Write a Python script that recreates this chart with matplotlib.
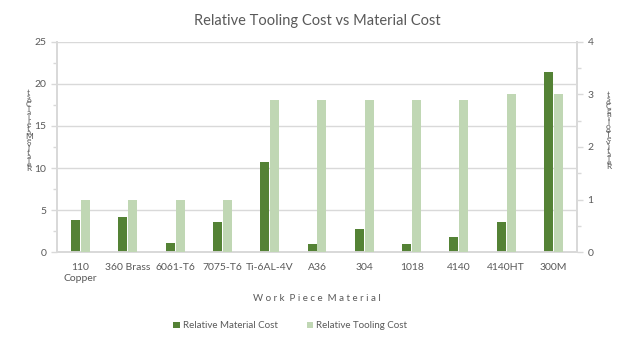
import numpy as np
import matplotlib
matplotlib.use("Agg")
from matplotlib import pyplot as plt
from matplotlib.ticker import MultipleLocator

# data
materials = ["110\nCopper", "360 Brass", "6061-T6", "7075-T6", "Ti-6AL-4V", "A36",
             "304", "1018", "4140", "4140HT", "300M"]
material_cost = [3.8, 4.2, 1.1, 3.6, 10.7, 1.0, 2.7, 1.0, 1.8, 3.6, 21.4]
tooling_cost = [1.0, 1.0, 1.0, 1.0, 2.9, 2.9, 2.9, 2.9, 2.9, 3.0, 3.0]

dark = "#548235"
light = "#C0D7B4"
txt = "#595959"
axcol = "#D9D9D9"

plt.rcParams["font.family"] = ["Lato", "DejaVu Sans"]

fig = plt.figure(figsize=(6.24, 3.43), dpi=100)
ax = fig.add_axes([0.091, 0.265, 0.834, 0.613])
ax2 = ax.twinx()

x = np.arange(len(materials))
w = 0.19
b1 = ax.bar(x - w / 2 - 0.01, material_cost, w, color=dark, zorder=3,
            label="Relative Material Cost")
b2 = ax2.bar(x + w / 2 + 0.01, tooling_cost, w, color=light, zorder=3,
             label="Relative Tooling Cost")

ax.set_xlim(-0.5, len(materials) - 0.5)
ax.set_ylim(0, 25)
ax2.set_ylim(0, 4)
ax.yaxis.set_major_locator(MultipleLocator(5))
ax.yaxis.set_minor_locator(MultipleLocator(2.5))
ax2.yaxis.set_major_locator(MultipleLocator(1))
ax2.yaxis.set_minor_locator(MultipleLocator(0.5))

ax.grid(axis="y", color=axcol, linewidth=1.0, zorder=0)
ax.set_axisbelow(True)

for a in (ax, ax2):
    a.spines["top"].set_visible(False)
    for s in ("left", "right", "bottom"):
        a.spines[s].set_color(axcol)
        a.spines[s].set_linewidth(1.3)
    a.tick_params(axis="y", which="both", colors=axcol, labelcolor=txt,
                  labelsize=7.5, length=4, width=1)
    a.tick_params(axis="y", which="minor", length=3)

ax.set_xticks(x)
ax.set_xticklabels(materials, fontsize=7.5, color=txt, linespacing=1.3)
ax.tick_params(axis="x", length=0, pad=8)

ax.set_title("Relative Tooling Cost vs Material Cost", fontsize=10.5, color=txt, pad=12)
ax.set_xlabel("W o r k  P i e c e  M a t e r i a l", fontsize=7, color=txt, labelpad=8)

# stacked, reversed axis titles as in the original
left_lab = "\n".join(reversed("Relative Material Cost".replace(" ", "")))
right_lab = "\n".join(reversed("Relative Tooling Cost".replace(" ", "")))
fig.text(0.046, 0.62, left_lab, fontsize=6, color=txt, ha="center", va="center",
         linespacing=0.5)
fig.text(0.975, 0.62, right_lab, fontsize=6, color=txt, ha="center", va="center",
         linespacing=0.5)

fig.legend([b1, b2], ["Relative Material Cost", "Relative Tooling Cost"],
           loc="center", bbox_to_anchor=(0.465, 0.05), ncol=2, frameon=False,
           fontsize=7, labelcolor=txt, handlelength=0.7, handleheight=0.7,
           handletextpad=0.3, columnspacing=3)

fig.savefig("out.png", dpi=100)
